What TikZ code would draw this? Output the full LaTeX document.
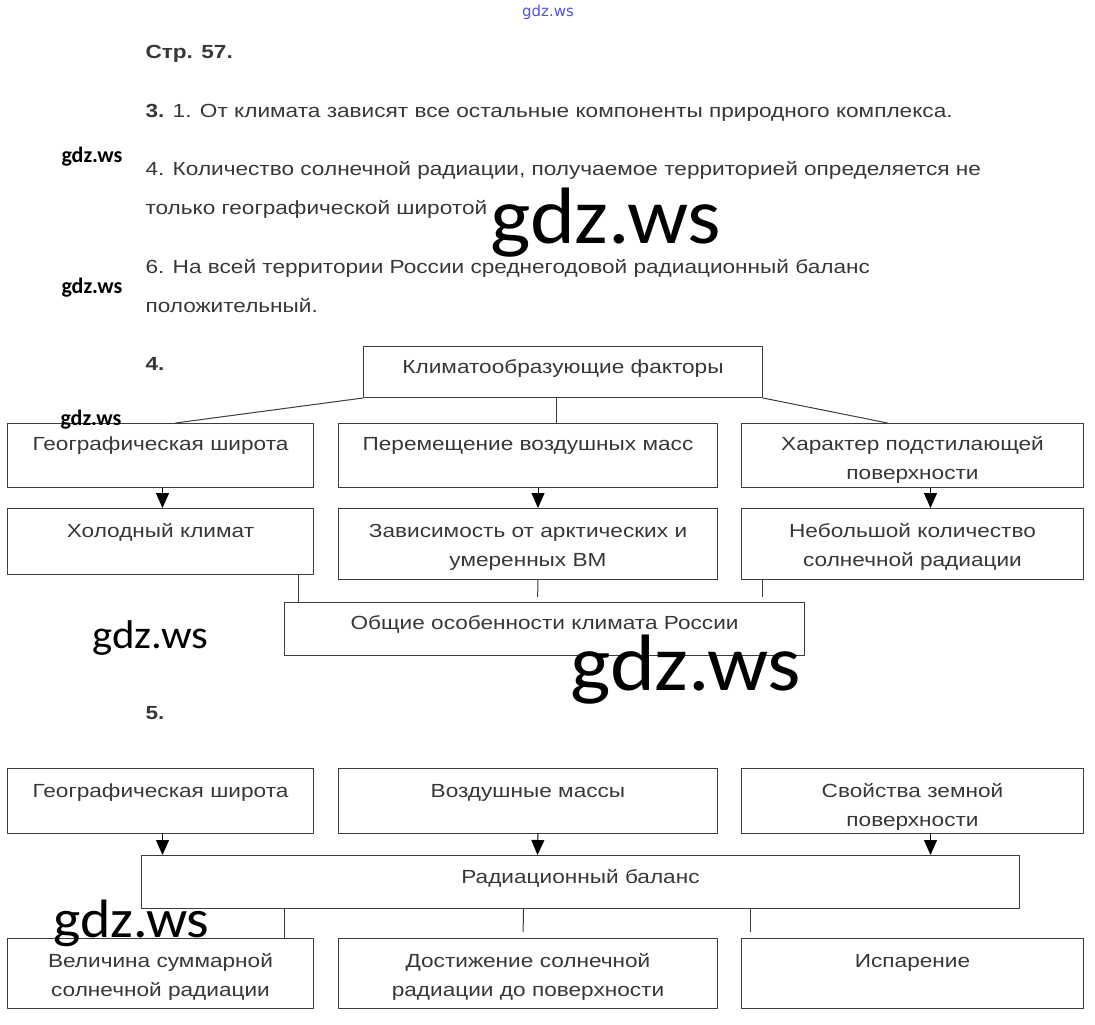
\documentclass[tikz,border=0pt]{standalone}
\usepackage{fontspec}
\setmainfont[FakeStretch=1.19]{Liberation Sans}
\newfontfamily\wmfont[FakeStretch=1.07]{Carlito}
\newfontfamily\wmsfont{Carlito}
\newfontfamily\linkfont{DejaVu Sans}
\usetikzlibrary{arrows.meta}
\definecolor{txt}{RGB}{55,55,55}
\definecolor{linec}{RGB}{60,60,60}
\definecolor{linkc}{RGB}{80,80,225}
\begin{document}
\begin{tikzpicture}[x=1pt, y=-1pt, line width=1pt, line join=round, >={Triangle[length=15pt,width=13pt]},
	every node/.style={text=txt, font=\fontsize{19}{29}\selectfont},
	box/.style n args={3}{draw=linec, anchor=north west, inner sep=0pt, align=center, text width=#1, text height=#2, text depth=#3},
	para/.style={anchor=base west, inner sep=0pt},
	wm/.style={anchor=base west, inner sep=0pt, text=black, font=\wmfont\fontsize{#1}{#1}\selectfont},
	wms/.style={anchor=base west, inner sep=0pt, text=black, font=\wmsfont\bfseries\fontsize{22}{22}\selectfont}]
	\useasboundingbox (0,0) rectangle (1095,1025);
	% text of the page
	\node[para, font=\bfseries\fontsize{19}{29}\selectfont] (p0) at (145,59) {Стр. 57.};
	\node[para] (p1) at (145,117) {\textbf{3.} 1. От климата зависят все остальные компоненты природного комплекса.};
	\node[para] (p2) at (145,175) {4. Количество солнечной радиации, получаемое территорией определяется не};
	\node[para] (p3) at (145,214) {только географической широтой};
	\node[para] (p4) at (145,273) {6. На всей территории России среднегодовой радиационный баланс};
	\node[para] (p5) at (145,312) {положительный.};
	% task 4
	\node[para, font=\bfseries\fontsize{19}{29}\selectfont] (n4) at (145,370) {4.};
	\node[box={399pt}{27pt}{24pt}] (kf) at (363,346) {Климатообразующие факторы};
	\node[box={306pt}{27pt}{37pt}] (g1) at (7,423) {Географическая широта};
	\node[box={379pt}{27pt}{37pt}] (g2) at (338,423) {Перемещение воздушных масс};
	\node[box={342pt}{27pt}{37pt}] (g3) at (741,423) {Характер подстилающей\\поверхности};
	\node[box={306pt}{29pt}{37pt}] (h1) at (7,508) {Холодный климат};
	\node[box={379pt}{29pt}{42pt}] (h2) at (338,508) {Зависимость от арктических и\\умеренных ВМ};
	\node[box={342pt}{29pt}{42pt}] (h3) at (741,508) {Небольшой количество\\солнечной радиации};
	\node[box={520pt}{27pt}{26pt}] (ob) at (284,602) {Общие особенности климата России};
	\draw[linec] (kf.south west) -- ([xshift=15pt]g1.north);
	\draw[linec] ([xshift=-7pt]kf.south) -- ([xshift=28pt]g2.north);
	\draw[linec] (kf.south east) -- ([xshift=-25pt]g3.north);
	\foreach \u/\v/\s in {g1/h1/2, g2/h2/10, g3/h3/18}
		\draw[->] ([xshift=\s pt]\u.south) -- ([xshift=\s pt]\v.north);
	\draw[linec] ([xshift=138pt]h1.south) -- ([xshift=-246pt]ob.north);
	\draw[linec, shorten >=5pt] ([xshift=10pt]h2.south) -- ([xshift=-7pt]ob.north);
	\draw[linec, shorten >=5pt] ([xshift=-150pt]h3.south) -- ([xshift=218pt]ob.north);
	% task 5
	\node[para, font=\bfseries\fontsize{19}{29}\selectfont] (n5) at (145,719) {5.};
	\node[box={306pt}{29pt}{36pt}] (a1) at (7,768) {Географическая широта};
	\node[box={379pt}{29pt}{36pt}] (a2) at (338,768) {Воздушные массы};
	\node[box={342pt}{29pt}{36pt}] (a3) at (741,768) {Свойства земной\\поверхности};
	\node[box={878pt}{28pt}{25pt}] (rb) at (141,855) {Радиационный баланс};
	\node[box={306pt}{29pt}{41pt}] (b1) at (7,938) {Величина суммарной\\солнечной радиации};
	\node[box={379pt}{29pt}{41pt}] (b2) at (338,938) {Достижение солнечной\\радиации до поверхности};
	\node[box={342pt}{29pt}{41pt}] (b3) at (741,938) {Испарение};
	\foreach \u/\s/\t in {a1/2/-418, a2/10/-43, a3/18/350}
		\draw[->] ([xshift=\s pt]\u.south) -- ([xshift=\t pt]rb.north);
	\draw[linec] ([xshift=-296pt]rb.south) -- ([xshift=124pt]b1.north);
	\draw[linec, shorten >=6pt] ([xshift=-57pt]rb.south) -- ([xshift=-5pt]b2.north);
	\draw[linec, shorten >=6pt] ([xshift=170pt]rb.south) -- ([xshift=-162pt]b3.north);
	% watermarks
	\node[anchor=base, inner sep=0pt, text=linkc, font=\linkfont\fontsize{15}{15}\selectfont] (lk) at (548,17) {gdz.ws};
	\node[wms] (w1) at (61,162) {gdz.ws};
	\node[wms] (w2) at (61,293) {gdz.ws};
	\node[wms] (w3) at (60,425) {gdz.ws};
	\node[wm=80] (w4) at (490,243) {gdz.ws};
	\node[wm=40] (w5) at (92,648) {gdz.ws};
	\node[wm=80] (w6) at (570,690) {gdz.ws};
	\node[wm=54] (w7) at (53,937) {gdz.ws};
\end{tikzpicture}
\end{document}
